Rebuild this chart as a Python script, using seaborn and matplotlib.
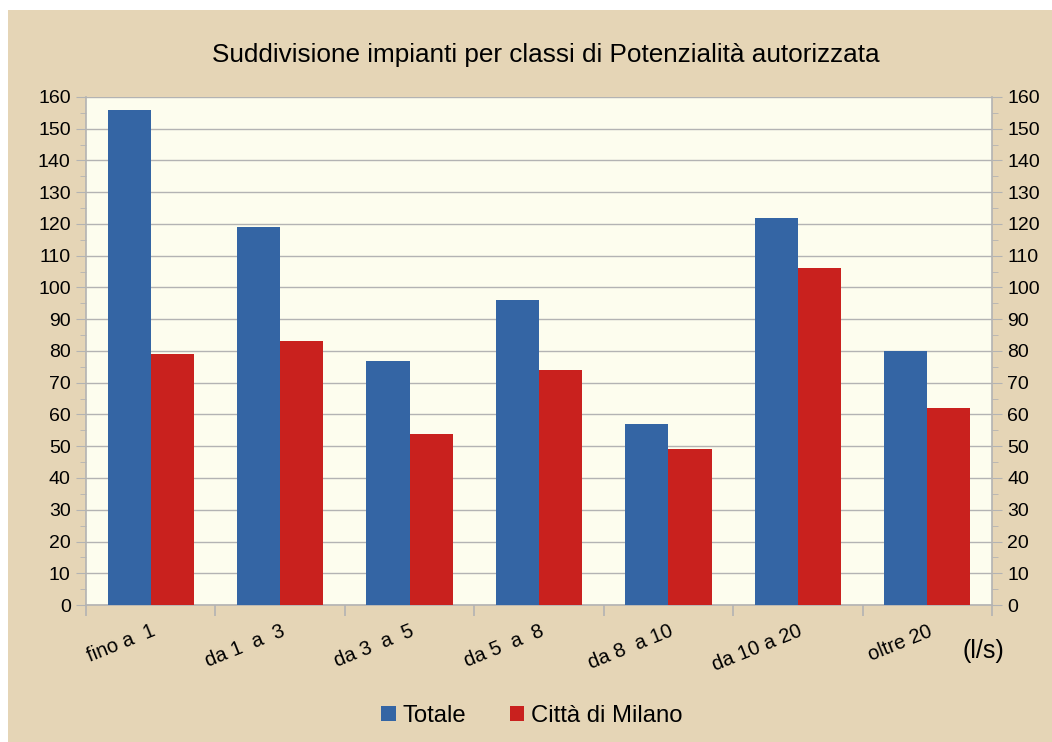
import pandas as pd
import seaborn as sns
import matplotlib.pyplot as plt
from matplotlib.patches import Rectangle
from matplotlib.ticker import MultipleLocator, FixedLocator

classi = ['fino a  1', 'da 1  a  3', 'da 3  a  5', 'da 5  a  8', 'da 8  a 10', 'da 10 a 20', 'oltre 20']
totale = [156, 119, 77, 96, 57, 122, 80]
milano = [79, 83, 54, 74, 49, 106, 62]
serie = ['Totale', 'Città di Milano']
colori = ['#3465a4', '#c9211e']

df = pd.DataFrame({
    'classe': classi * 2,
    'n': totale + milano,
    'serie': [serie[0]] * len(classi) + [serie[1]] * len(classi),
})

sns.set_style('white')
plt.rcParams['font.family'] = ['Liberation Sans', 'DejaVu Sans']
plt.rcParams['text.color'] = 'black'

beige = '#e5d5b6'
griglia = '#b3b3b3'

fig = plt.figure(figsize=(10.52, 7.42), dpi=100, facecolor='white')
fig.patches.append(Rectangle((8 / 1052, 0), 1 - 8 / 1052, 1 - 10 / 742,
                             transform=fig.transFigure, facecolor=beige,
                             edgecolor='none', zorder=-10))

ax = fig.add_axes([86 / 1052, 1 - 605 / 742, 906 / 1052, 508 / 742])
ax.set_facecolor('#fdfdee')

sns.barplot(data=df, x='classe', y='n', hue='serie', palette=colori,
            width=0.667, gap=0, saturation=1, linewidth=0, ax=ax, zorder=3)

ax.set_ylim(0, 160)
ax.set_xlim(-0.5, len(classi) - 0.5)
ax.yaxis.set_major_locator(MultipleLocator(10))
ax.yaxis.set_minor_locator(MultipleLocator(5))
ax.grid(axis='y', color=griglia, linewidth=1, zorder=0)
ax.set_axisbelow(True)

for lato in ['left', 'right', 'bottom']:
    ax.spines[lato].set_color(griglia)
    ax.spines[lato].set_linewidth(1.2)
ax.spines['top'].set_visible(False)

ax.tick_params(axis='y', which='both', left=True, right=True,
               labelleft=True, labelright=True, color=griglia,
               labelsize=14, labelcolor='black')
ax.tick_params(axis='y', which='major', length=7, pad=4)
ax.tick_params(axis='y', which='minor', length=4)

ax.xaxis.set_minor_locator(FixedLocator([i - 0.5 for i in range(len(classi) + 1)]))
ax.tick_params(axis='x', which='minor', bottom=True, length=8, color=griglia, width=1.2)
ax.tick_params(axis='x', which='major', length=0, pad=12, labelsize=14.5, labelcolor='black')
plt.setp(ax.get_xticklabels(), rotation=22, ha='right', rotation_mode='anchor')
ax.set_xlabel('')
ax.set_ylabel('')

fig.text(546 / 1052, 1 - 55 / 742, 'Suddivisione impianti per classi di Potenzialità autorizzata',
         ha='center', va='center', fontsize=18.8, color='black')
fig.text(983 / 1052, 1 - 651 / 742, '(l/s)', ha='center', va='center', fontsize=18, color='black')

handles, labels = ax.get_legend_handles_labels()
ax.get_legend().remove()
fig.legend(handles, labels, loc='center', bbox_to_anchor=(532 / 1052, 1 - 716 / 742),
           ncol=2, frameon=False, fontsize=17.2, handlelength=0.6, handleheight=0.6,
           handletextpad=0.3, columnspacing=1.8, labelcolor='black')

plt.savefig('out.png', dpi=100, facecolor=fig.get_facecolor())
